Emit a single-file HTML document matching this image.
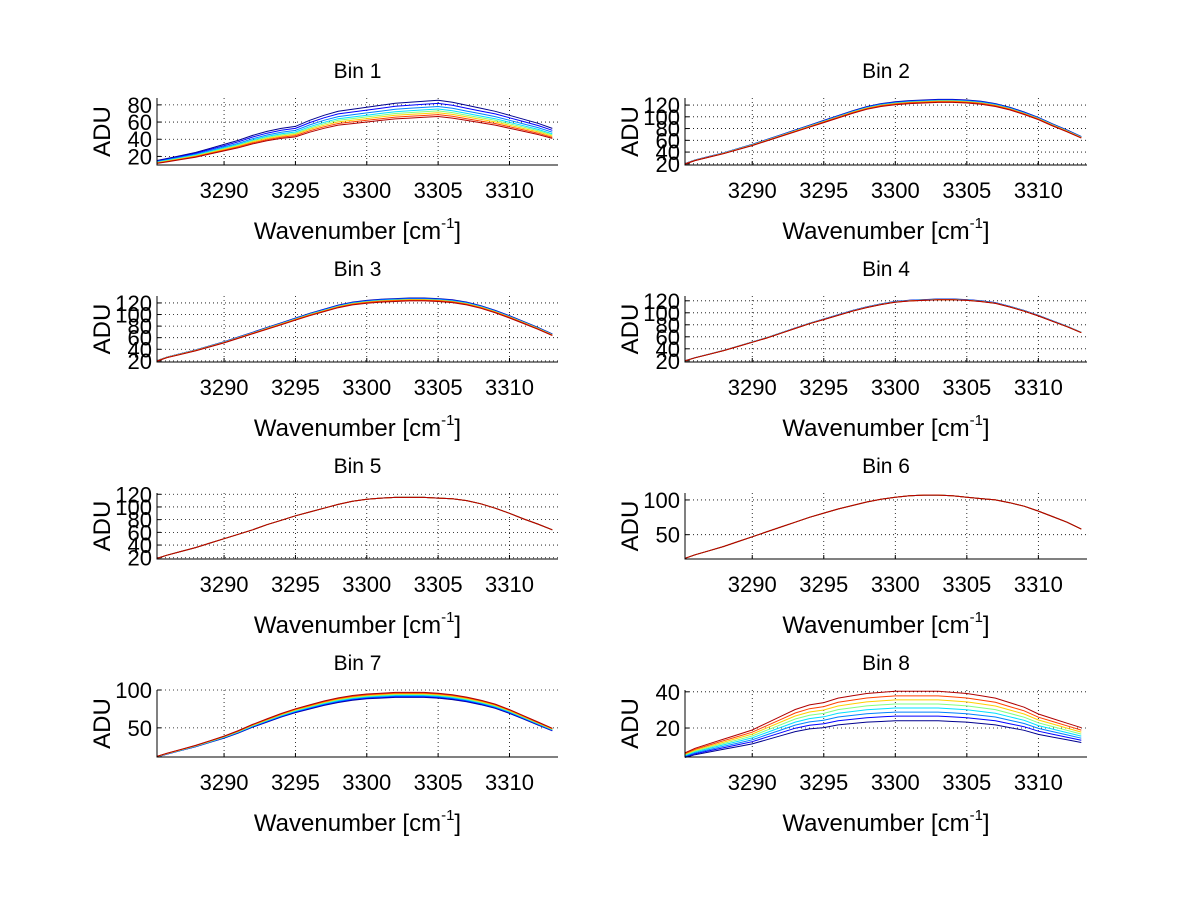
<!DOCTYPE html>
<html><head><meta charset="utf-8"><style>
html,body{margin:0;padding:0;background:#fff;}
svg{display:block;font-family:"Liberation Sans",Arial,sans-serif;}
</style></head><body>
<svg id="fig" width="1200" height="901" viewBox="0 0 1200 901" xmlns="http://www.w3.org/2000/svg"></svg>
<script>
const wavenumbers=[3285,3286,3287,3288,3289,3290,3291,3292,3293,3294,3295,3296,3297,3298,3299,3300,3301,3302,3303,3304,3305,3306,3307,3308,3309,3310,3311,3312,3313];
const bin1Base=[13,15,18,21,25,29,33,38,42,45,47,53,58,62,64,66,68,70,71,72,73,71,68,65,62,58,54,50,45];
const bin2Base=[20,26,32,38,45,52,60,68,76,84,92,100,108,115,120,123,125,126,127,127,126,124,120,114,106,97,86,76,65];
const bin3Base=[20,26,32,38,45,52,60,68,76,84,92,100,107,114,119,122,124,125,126,126,125,123,119,113,105,96,86,76,65];
const bin4Base=[20,25,31,37,44,51,58,66,74,82,89,96,103,109,114,118,120,121,122,122,121,119,116,110,103,95,86,77,67];
const bin5Base=[19,24,30,36,43,50,57,64,72,79,86,92,98,104,109,112,114,115,115,115,114,113,110,105,98,90,81,73,64];
const bin6Base=[16,21,27,33,40,47,54,61,68,75,81,87,92,97,101,104,106,107,107,106,104,102,100,96,91,84,76,68,58];
const bin7Base=[12,16,21,26,32,38,45,53,60,67,73,78,83,87,90,92,93,94,94,94,93,91,88,84,79,72,64,56,48];
const bin8Base=[5,7,9,11,13,15,18,21,24,26,27,29,30,31,31.5,32,32,32,32,31.5,31,30,29,27,25,22,20,18,16];
const bin1Scale=[1.17,1.12,1.07,1.03,1.0,0.97,0.94,0.91];
const bin2Scale=[1.02,1.015,1.01,1.0,1.0,0.995,0.99,0.98];
const bin4Scale=[1.008,1.006,1.004,1.002,1.0,0.999,0.998,0.997];
const flatScale=[1.0,1.0,1.0,1.0,1.0,1.0,1.0,1.0];
const bin7Scale=[0.96,0.97,0.98,0.99,1.0,1.01,1.02,1.03];
const bin8Scale=[0.75,0.83,0.9,0.97,1.04,1.11,1.18,1.26];
const xTicks=[3290,3295,3300,3305,3310];
const panelTitles=["Bin 1","Bin 2","Bin 3","Bin 4","Bin 5","Bin 6","Bin 7","Bin 8"];
const panelBases=[bin1Base,bin2Base,bin3Base,bin4Base,bin5Base,bin6Base,bin7Base,bin8Base];
const panelScales=[bin1Scale,bin2Scale,bin2Scale,bin4Scale,flatScale,flatScale,bin7Scale,bin8Scale];
const panelYMin=[10,18,18,18,18,15,11.5,4];
const panelYMax=[88,132,132,128,122,110,100,41];
const panelYTicks=[[20,40,60,80],[20,40,60,80,100,120],[20,40,60,80,100,120],[20,40,60,80,100,120],[20,40,60,80,100,120],[50,100],[50,100],[20,40]];
const lineColors=["#00008f","#0000ff","#0080ff","#00e0ff","#80ff80","#ffd000","#ff4000","#b00000"];
const XMIN=3285.3, XMAX=3313.4;

const NS="http://www.w3.org/2000/svg";
const svg=document.getElementById('fig');
function mk(tag,attrs,parent){const e=document.createElementNS(NS,tag);for(const k in attrs)e.setAttribute(k,attrs[k]);(parent||svg).appendChild(e);return e;}

const lefts=[157,685], rights=[558,1087];
const tops=[98,296,493,690], bottoms=[165,362,559,757];

for(let p=0;p<8;p++){
  const col=p%2,row=Math.floor(p/2);
  const L=lefts[col],R=rights[col],T=tops[row],B=bottoms[row];
  const g=mk('g',{});
  
  
  const xs=v=>L+(v-XMIN)/(XMAX-XMIN)*(R-L);
  const ys=v=>B-(v-panelYMin[p])/(panelYMax[p]-panelYMin[p])*(B-T);
  xTicks.forEach(t=>{
    const l=mk('line',{x1:xs(t),x2:xs(t),y1:T,y2:B,stroke:'#000','stroke-width':0.8,'stroke-dasharray':'1,3'},g);
    
    
    mk('line',{x1:xs(t),x2:xs(t),y1:B,y2:B-4,stroke:'#000','stroke-width':1},g);
    const tx=mk('text',{x:xs(t),y:B+33,'font-size':22,'text-anchor':'middle'},g);
    tx.textContent=t;
    
    
  });
  panelYTicks[p].forEach(t=>{
    const l=mk('line',{x1:L,x2:R,y1:ys(t),y2:ys(t),stroke:'#000','stroke-width':0.8,'stroke-dasharray':'1,3'},g);
    
    
    mk('line',{x1:L,x2:L+4,y1:ys(t),y2:ys(t),stroke:'#000','stroke-width':1},g);
    const tx=mk('text',{x:L-5,y:ys(t)+8,'font-size':22,'text-anchor':'end'},g);
    tx.textContent=t;
    
    
  });
  panelScales[p].forEach((s,i)=>{
    const pts=wavenumbers.map((w,k)=>{const xx=Math.max(L,Math.min(R,xs(w)));return xx.toFixed(1)+','+ys(panelBases[p][k]*s).toFixed(1);}).join(' ');
    const pl=mk('polyline',{points:pts,fill:'none',stroke:lineColors[i],'stroke-width':1},g);
    
    
  });
  const ax=mk('path',{d:`M${L},${T}V${B}H${R}`,fill:'none',stroke:'#000','stroke-width':1},g);
  
  
  const ti=mk('text',{x:(L+R)/2,y:T-20,'font-size':21,'text-anchor':'middle'},g);
  ti.textContent=panelTitles[p];
  
  
  const yl=mk('text',{x:0,y:0,'font-size':24,'text-anchor':'middle',transform:`translate(${L-47},${(T+B)/2}) rotate(-90)`},g);
  yl.textContent='ADU';
  
  
  const xl=mk('text',{x:(L+R)/2,y:B+74,'font-size':24,'text-anchor':'middle'},g);
  
  
  const t1=mk('tspan',{},xl);t1.textContent='Wavenumber [cm';
  const t2=mk('tspan',{'font-size':15,dy:-11},xl);t2.textContent='-1';
  const t3=mk('tspan',{dy:11},xl);t3.textContent=']';
}
</script>
</body></html>
